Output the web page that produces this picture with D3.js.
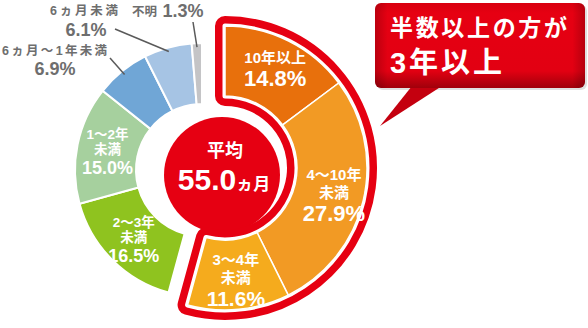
<!DOCTYPE html>
<html><head><meta charset="utf-8">
<script src="https://cdn.jsdelivr.net/npm/d3@7"></script>
<style>
html,body{margin:0;padding:0;background:#fff;}
svg{display:block;}
text{font-family:"Liberation Sans","Noto Sans CJK JP",sans-serif;font-weight:bold;}
</style></head>
<body>
<script>
// ---- data ----
const categories = ["10年以上","4～10年未満","3～4年未満","2～3年未満","1～2年未満","6ヵ月～1年未満","6ヵ月未満","不明"];
const categoryLines = [["10年以上"],["4～10年","未満"],["3～4年","未満"],["2～3年","未満"],["1～2年","未満"],["6ヵ月～1年未満"],["6ヵ月未満"],["不明"]];
const values = [14.8,27.9,11.6,16.5,15.0,6.9,6.1,1.3];
const highlightCount = 3;
const averageLabel = ["平均","55.0","ヵ月"];
const calloutLines = ["半数以上の方が","3年以上"];

// ---- layout / style ----
const W = 588, H = 328;
const colors = ["#e8700c","#f29a24","#f5ab1d","#8fc31f","#a6d09e","#70a6d6","#a6c4e4","#c4c4c6"];
const RED = "#e60012";
const svg = d3.select("body").append("svg").attr("width",W).attr("height",H);

const defs = svg.append("defs");
const g1 = defs.append("linearGradient").attr("id","bub").attr("x1",0).attr("y1",0).attr("x2",0).attr("y2",1);
g1.append("stop").attr("offset","0%").attr("stop-color","#d8000f");
g1.append("stop").attr("offset","12%").attr("stop-color","#e60012");
g1.append("stop").attr("offset","80%").attr("stop-color","#e20012");
g1.append("stop").attr("offset","100%").attr("stop-color","#a0000b");
const g2 = defs.append("linearGradient").attr("id","bubx").attr("x1",0).attr("y1",0).attr("x2",1).attr("y2",0);
g2.append("stop").attr("offset","0%").attr("stop-color","#000").attr("stop-opacity",0.18);
g2.append("stop").attr("offset","6%").attr("stop-color","#000").attr("stop-opacity",0);
g2.append("stop").attr("offset","94%").attr("stop-color","#000").attr("stop-opacity",0);
g2.append("stop").attr("offset","100%").attr("stop-color","#000").attr("stop-opacity",0.2);

const pie = d3.pie().sort(null).value(d=>d).startAngle(0).endAngle(2*Math.PI);
const arcsData = pie(values);

// plain donut
const C1 = {x:202, y:170}, R1 = 127, r1 = 66;
// highlighted group
const C2 = {x:225, y:168}, R2 = 142, r2 = 72;

const arc1 = d3.arc().innerRadius(r1).outerRadius(R1);
const arc2 = d3.arc().innerRadius(r2).outerRadius(R2);

const gPlain = svg.append("g").attr("transform",`translate(${C1.x},${C1.y})`);
gPlain.selectAll("path").data(arcsData.slice(highlightCount)).join("path")
  .attr("d",arc1).attr("fill",(d,i)=>colors[i+highlightCount])
  .attr("stroke","#fff").attr("stroke-width",2);

// center circle
svg.append("circle").attr("cx",222).attr("cy",175).attr("r",58).attr("fill",RED);

// highlighted group with outline
const gHi = svg.append("g").attr("transform",`translate(${C2.x},${C2.y})`);
const groupArc = {startAngle:arcsData[0].startAngle, endAngle:arcsData[highlightCount-1].endAngle};
gHi.append("path").attr("d",arc2(groupArc)).attr("fill",RED).attr("stroke",RED)
  .attr("stroke-width",20).attr("stroke-linejoin","round");
gHi.append("path").attr("d",arc2(groupArc)).attr("fill","#fff").attr("stroke","#fff")
  .attr("stroke-width",5).attr("stroke-linejoin","round");
gHi.selectAll("path.seg").data(arcsData.slice(0,highlightCount)).join("path").attr("class","seg")
  .attr("d",arc2).attr("fill",(d,i)=>colors[i])
  .attr("stroke","#fff").attr("stroke-width",1.5);

// inside labels
function blockLabel(parent, cx, cy, lines, val, cs, step, vstep, vs){
  const n = lines.length;
  const top = -cs*0.86;
  const bottom = (n-1)*step + vstep;
  const shift = cy - (top+bottom)/2;
  const t = parent.append("g");
  lines.forEach((l,i)=>{
    t.append("text").attr("x",cx).attr("y",shift + i*step).attr("text-anchor","middle")
      .attr("font-size",cs).attr("fill","#fff").text(l);
  });
  t.append("text").attr("x",cx).attr("y",shift+(n-1)*step+vstep).attr("text-anchor","middle")
    .attr("font-size",vs).attr("fill","#fff").text(val.toFixed(1)+"%");
}
arcsData.forEach((d,i)=>{
  if(i < highlightCount){
    const [x,y] = d3.arc().innerRadius(224).outerRadius(0).centroid(d);
    const vs = i===2 ? 21 : 22;
    blockLabel(svg, C2.x+x, C2.y+y, categoryLines[i], values[i], 15, 18, 23, vs);
  } else if(i < 5){
    const [x,y] = d3.arc().innerRadius(193).outerRadius(0).centroid(d);
    blockLabel(svg, C1.x+x, C1.y+y, categoryLines[i], values[i], 13.5, 15, 20, 18);
  }
});

// outside labels with leader lines
const GREY = "#6e6e6e";
function leader(d, end){
  const a = (d.startAngle+d.endAngle)/2, rr = R1-4;
  svg.append("line").attr("x1",C1.x+Math.sin(a)*rr).attr("y1",C1.y-Math.cos(a)*rr)
    .attr("x2",end[0]).attr("y2",end[1]).attr("stroke","#5a5a5a").attr("stroke-width",1.5);
}
// 6ヵ月～1年未満
leader(arcsData[5],[110,58]);
svg.append("text").attr("x",2).attr("y",55).attr("font-size",12.5).attr("fill",GREY)
  .attr("textLength",105).text(categoryLines[5][0]);
svg.append("text").attr("x",55).attr("y",75).attr("text-anchor","middle").attr("font-size",18).attr("fill",GREY)
  .text(values[5].toFixed(1)+"%");
// 6ヵ月未満
leader(arcsData[6],[115,29]);
svg.append("text").attr("x",50).attr("y",15).attr("font-size",12.5).attr("fill",GREY)
  .attr("textLength",68).text(categoryLines[6][0]);
svg.append("text").attr("x",86).attr("y",36).attr("text-anchor","middle").attr("font-size",18).attr("fill",GREY)
  .text(values[6].toFixed(1)+"%");
// 不明
leader(arcsData[7],[193,22]);
svg.append("text").attr("x",132).attr("y",16).attr("font-size",12.5).attr("fill",GREY)
  .attr("textLength",25).text(categoryLines[7][0]);
svg.append("text").attr("x",183).attr("y",17).attr("text-anchor","middle").attr("font-size",18).attr("fill",GREY)
  .text(values[7].toFixed(1)+"%");

// center text
svg.append("text").attr("x",225).attr("y",157).attr("text-anchor","middle").attr("font-size",18).attr("fill","#fff").text(averageLabel[0]);
const avg = svg.append("text").attr("x",224).attr("y",190).attr("text-anchor","middle").attr("fill","#fff");
avg.append("tspan").attr("font-size",30).text(averageLabel[1]);
avg.append("tspan").attr("font-size",17).text(averageLabel[2]);

// callout bubble
const bub = svg.append("g");
bub.append("rect").attr("x",377).attr("y",5).attr("width",210).attr("height",85).attr("rx",6).attr("fill","#000").attr("opacity",0.12);
bub.append("path").attr("d","M412,86 L442,86 L380,126 Z").attr("fill","#c4000f");
bub.append("rect").attr("x",375).attr("y",3).attr("width",210).attr("height",85).attr("rx",6).attr("fill","url(#bub)");
bub.append("rect").attr("x",375).attr("y",3).attr("width",210).attr("height",85).attr("rx",6).attr("fill","url(#bubx)");
bub.append("text").attr("x",390).attr("y",36).attr("font-size",23).attr("fill","#fff")
  .attr("textLength",177).text(calloutLines[0]);
bub.append("text").attr("x",390).attr("y",73).attr("font-size",29).attr("fill","#fff")
  .attr("textLength",112).text(calloutLines[1]);
</script>
</body></html>
